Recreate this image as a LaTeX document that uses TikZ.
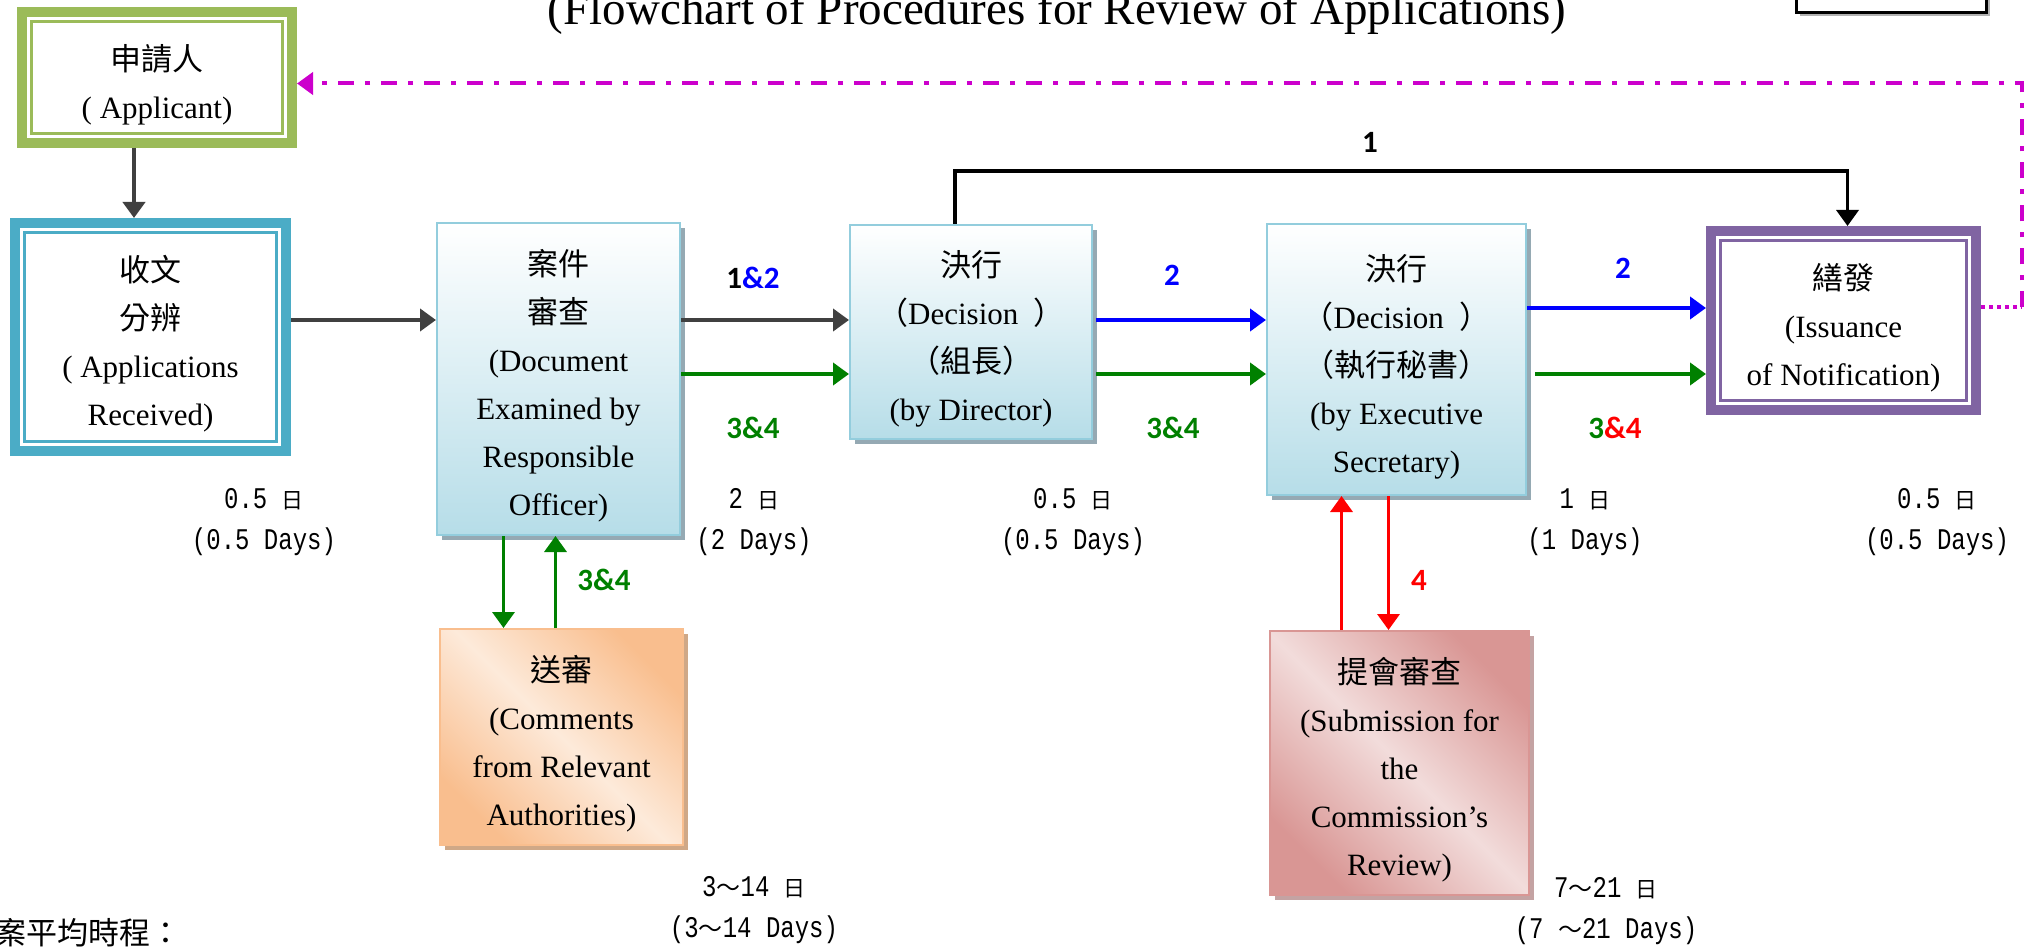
\documentclass[tikz,border=0pt]{standalone}
\usepackage{fontspec}
\setmainfont{Liberation Serif}
\newfontfamily\cjk{Noto Sans CJK TC}
\newfontfamily\daysfont[FakeStretch=0.8]{Liberation Mono}
\newfontfamily\lblfont{Carlito}
\usetikzlibrary{arrows.meta,shadows}

\definecolor{olivebox}{HTML}{9BBB59}
\definecolor{aquabox}{HTML}{4BACC6}
\definecolor{purplebox}{HTML}{8064A2}
\definecolor{paleblue}{HTML}{B6DDE8}
\definecolor{paleline}{HTML}{93CDDD}
\definecolor{blueshadow}{HTML}{95A9B3}
\definecolor{peach}{HTML}{F9BE8E}
\definecolor{peachlight}{HTML}{FDEADA}
\definecolor{peachshadow}{HTML}{CFA887}
\definecolor{rose}{HTML}{D99694}
\definecolor{roselight}{HTML}{F2DCDB}
\definecolor{roseshadow}{HTML}{C4A3A3}
\definecolor{darkarrow}{HTML}{404040}
\definecolor{okgreen}{HTML}{008000}
\definecolor{notice}{HTML}{CC00CC}

\newcommand{\riunit}{{\cjk\fontsize{22}{41}\selectfont 日}}
\newcommand{\daytilde}{{\cjk\fontsize{24}{41}\selectfont ～}}
\newcommand{\topline}[1]{{\cjk #1}\rule{0pt}{40pt}}

\tikzset{
    boxtext/.style={align=center, inner sep=0pt, font=\fontsize{31}{48}\selectfont},
    dblbox/.style={boxtext, draw=#1, line width=10pt, fill=white,
        path picture={\draw[#1, line width=2.5pt] ([shift={(9.5pt,-9.5pt)}]path picture bounding box.north west) rectangle ([shift={(-9.5pt,9.5pt)}]path picture bounding box.south east);}},
    decisionbox/.style={boxtext, draw=paleline, line width=2pt, top color=white, bottom color=paleblue,
        drop shadow={shadow xshift=5pt, shadow yshift=-5pt, fill=blueshadow, opacity=1}},
    peachbox/.style={boxtext, draw=peach, line width=2pt, top color=peach, bottom color=peach, middle color=peachlight, shading angle=-45,
        drop shadow={shadow xshift=5pt, shadow yshift=-5pt, fill=peachshadow, opacity=1}},
    rosebox/.style={boxtext, draw=rose, line width=2pt, top color=rose, bottom color=rose, middle color=roselight, shading angle=-45,
        drop shadow={shadow xshift=5pt, shadow yshift=-5pt, fill=roseshadow, opacity=1}},
    flowarrow/.style={-{Triangle[length=16pt,width=22pt]}, line width=#1},
    flowlbl/.style={inner sep=0pt, font=\lblfont\bfseries\fontsize{31}{31}\selectfont},
    dayslbl/.style={align=center, inner sep=0pt, font=\daysfont\fontsize{30}{41}\selectfont}
}

\begin{document}
\begin{tikzpicture}[x=1pt, y=-1pt]
    \useasboundingbox (0,0) rectangle (2031,949);

    \node[anchor=base, inner sep=0pt, font=\fontsize{47}{47}\selectfont] (title) at (1057,25) {(Flowchart of Procedures for Review of Applications)};
    \node[draw, line width=3pt, fill=white, minimum width=190pt, minimum height=80pt,
        drop shadow={shadow xshift=3pt, shadow yshift=-3pt, fill=gray!60, opacity=1}] (corner) at (1891.5,-27) {};

    % boxes
    \node[dblbox=olivebox, minimum width=270pt, minimum height=131pt] (applicant) at (157,77.5) {\topline{申請人}\\( Applicant)};
    \node[dblbox=aquabox, minimum width=271pt, minimum height=228pt] (recv) at (150.5,337) {\topline{收文}\\{\cjk 分辨}\\( Applications\\Received)};
    \node[decisionbox, minimum width=243pt, minimum height=312pt] (exam) at (558.5,379) {\topline{案件}\\{\cjk 審查}\\(Document\\Examined by\\Responsible\\Officer)};
    \node[decisionbox, minimum width=242pt, minimum height=214pt] (director) at (971,332) {\topline{決行}\\{\cjk （}Decision\ \ {\cjk ）}\\{\cjk （組長）}\\(by Director)};
    \node[decisionbox, minimum width=259pt, minimum height=271pt] (exec) at (1396.5,359.5) {\topline{決行}\\{\cjk （}Decision\ \ {\cjk ）}\\{\cjk （執行秘書）}\\(by Executive\\Secretary)};
    \node[dblbox=purplebox, minimum width=265pt, minimum height=179pt] (issue) at (1843.5,320.5) {\topline{繕發}\\(Issuance\\of Notification)};
    \node[peachbox, minimum width=243pt, minimum height=216pt] (consult) at (561.5,737) {\topline{送審}\\(Comments\\from Relevant\\Authorities)};
    \node[rosebox, minimum width=259pt, minimum height=264pt] (review) at (1399.5,763) {\topline{提會審查}\\(Submission for\\the\\Commission's\\Review)};

    % connectors
    \draw[flowarrow=4pt, darkarrow] ([xshift=-23pt]applicant.south) -- ([xshift=-23pt]applicant.south |- recv.north);
    \draw[flowarrow=4pt, darkarrow] ([yshift=17pt]recv.east) -- ([yshift=17pt]recv.east -| exam.west);
    \foreach \from/\to/\dy/\clr/\gap in {exam/director/12/darkarrow/0, exam/director/-42/okgreen/0, director/exec/39.5/blue/3, director/exec/-14.5/okgreen/3, exec/issue/12.5/blue/0, exec/issue/-53.5/okgreen/8}
        {
            \draw[flowarrow=4pt, color=\clr, shorten <=\gap pt] ([yshift=\dy pt]\to.west -| \from.east) -- ([yshift=\dy pt]\to.west);
        }
    \draw[flowarrow=3.5pt, black] ([xshift=-16pt]director.north) |- ([xshift=4pt, yshift=55pt]issue.north) -- ([xshift=4pt]issue.north);
    \draw[line width=4pt, notice, dash pattern=on 4pt off 4pt] ([yshift=13pt]issue.east) -- ++(41,0) coordinate (turn);
    \draw[flowarrow=4pt, notice, dash pattern=on 16pt off 11pt on 5pt off 11pt] (turn) |- ([yshift=-6pt]applicant.east);
    \draw[flowarrow=3.5pt, okgreen] ([xshift=-55pt]exam.south) -- ([xshift=-55pt]exam.south |- consult.north);
    \draw[flowarrow=3.5pt, okgreen] ([xshift=-6pt]consult.north) -- ([xshift=-6pt]consult.north |- exam.south);
    \draw[flowarrow=3.5pt, red] ([xshift=-58pt]review.north) -- ([xshift=-58pt]review.north |- exec.south);
    \draw[flowarrow=3.5pt, red] ([xshift=-8pt]exec.south) -- ([xshift=-8pt]exec.south |- review.north);

    % labels
    \node[flowlbl] (lblone) at (1370,142) {1};
    \node[flowlbl] (lblexam) at (753,278) {1{\color{blue}\&2}};
    \node[flowlbl, okgreen] (lblexamg) at (753,428) {3\&4};
    \node[flowlbl, blue] (lbldir) at (1172,275) {2};
    \node[flowlbl, okgreen] (lbldirg) at (1173,428) {3\&4};
    \node[flowlbl, blue] (lblexec) at (1623,268) {2};
    \node[flowlbl, okgreen] (lblexecg) at (1615,428) {3{\color{red}\&4}};
    \node[flowlbl, okgreen] (lblconsult) at (604,580) {3\&4};
    \node[flowlbl, red] (lblreview) at (1419,580) {4};

    \foreach \x/\y/\dayval/\dayeng [count=\i] in {264/522/0.5/0.5, 754/522/2/2, 1073/522/0.5/0.5, 1585/522/1/1, 1937/522/0.5/0.5, 754/910/3\daytilde14/3\daytilde14, 1606/911/7\daytilde21/7 \daytilde21}
        {
            \node[dayslbl] (days\i) at (\x,\y) {\dayval\ \riunit\\(\dayeng\ Days)};
        }
    \node[anchor=west, inner sep=0pt, font=\cjk\fontsize{31}{31}\selectfont] (avgtime) at (-5,933) {案平均時程：};
\end{tikzpicture}
\end{document}
